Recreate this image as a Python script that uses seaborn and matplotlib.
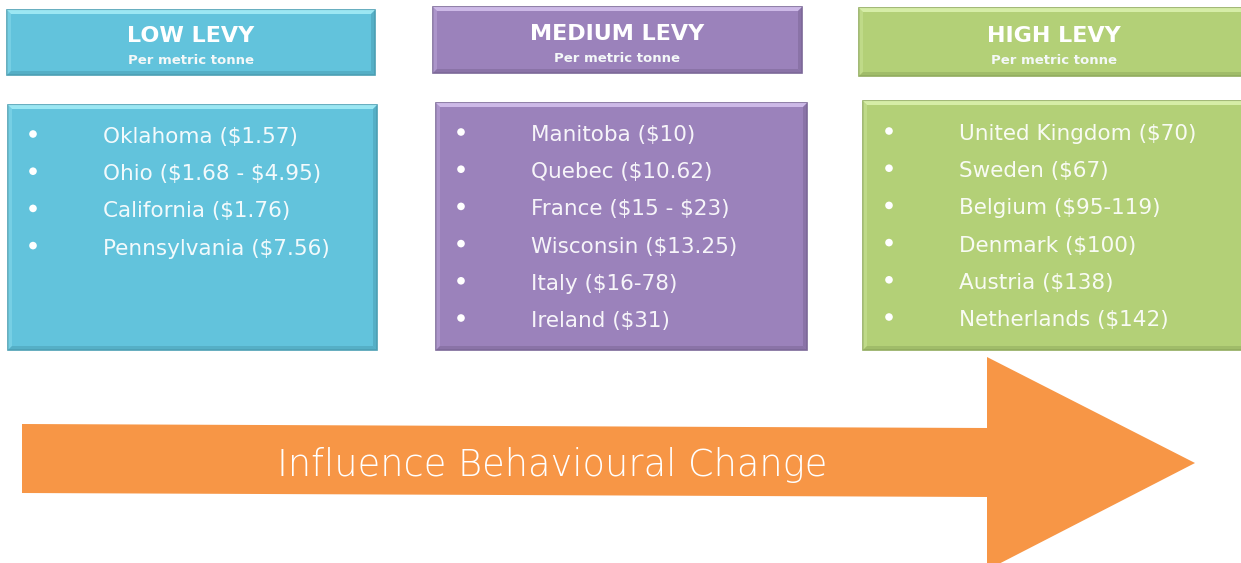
import numpy as np
import pandas as pd
import seaborn as sns
import matplotlib.pyplot as plt
from matplotlib.patches import Polygon

sns.set_theme(style="white")
plt.rcParams['font.family'] = ['DejaVu Sans']

# levy groups
headers = ["LOW LEVY", "MEDIUM LEVY", "HIGH LEVY"]
subtitle = "Per metric tonne"
low_items = ["Oklahoma ($1.57)", "Ohio ($1.68 - $4.95)", "California ($1.76)",
             "Pennsylvania ($7.56)"]
medium_items = ["Manitoba ($10)", "Quebec ($10.62)", "France ($15 - $23)",
                "Wisconsin ($13.25)", "Italy ($16-78)", "Ireland ($31)"]
high_items = ["United Kingdom ($70)", "Sweden ($67)", "Belgium ($95-119)",
              "Denmark ($100)", "Austria ($138)", "Netherlands ($142)"]
arrow_label = "Influence Behavioural Change"

# layout (pixel coords, y down)
header_boxes = [(7, 10, 375, 75), (433, 7, 802, 73), (859, 8, 1245, 76)]
list_boxes = [(8, 105, 377, 350), (436, 103, 807, 350), (863, 101, 1245, 350)]
bullet_x = [33, 461, 889]
text_x = [103, 531, 959]
row_y0 = [137, 135, 134]
row_step = 37.2
faces = ["#62C3DC", "#9B82BB", "#B3D077"]
lights = ["#A6EEF8", "#D6C4F0", "#DDF3B0"]
darks = ["#4C9FB4", "#7C6898", "#91AC5E"]


def bevel_box(ax, box, face, light, dark, bw=4):
    x0, y0, x1, y1 = box
    ax.add_patch(Polygon([(x0, y0), (x1, y0), (x1, y1), (x0, y1)],
                         closed=True, facecolor=face, edgecolor=dark, lw=1.2, zorder=2))
    # top and left lighter, bottom and right darker
    ax.add_patch(Polygon([(x0, y0), (x1, y0), (x1 - bw, y0 + bw), (x0 + bw, y0 + bw)],
                         facecolor=light, edgecolor='none', alpha=0.85, zorder=3))
    ax.add_patch(Polygon([(x0, y0), (x0 + bw, y0 + bw), (x0 + bw, y1 - bw), (x0, y1)],
                         facecolor=light, edgecolor='none', alpha=0.3, zorder=3))
    ax.add_patch(Polygon([(x0, y1), (x0 + bw, y1 - bw), (x1 - bw, y1 - bw), (x1, y1)],
                         facecolor=dark, edgecolor='none', alpha=0.55, zorder=3))
    ax.add_patch(Polygon([(x1, y0), (x1, y1), (x1 - bw, y1 - bw), (x1 - bw, y0 + bw)],
                         facecolor=dark, edgecolor='none', alpha=0.55, zorder=3))


fig = plt.figure(figsize=(12.41, 5.63), dpi=100)
ax = fig.add_axes([0, 0, 1, 1])

groups = [low_items, medium_items, high_items]
for i in range(3):
    bevel_box(ax, header_boxes[i], faces[i], lights[i], darks[i])
    bevel_box(ax, list_boxes[i], faces[i], lights[i], darks[i])
    hx0, hy0, hx1, hy1 = header_boxes[i]
    cx = (hx0 + min(hx1, 1241)) / 2 + (4 if i == 2 else 0)
    ax.text(cx, 36 - (2 if i == 1 else 0), headers[i], ha='center', va='center',
            color='white', fontsize=16, fontweight='bold', zorder=5, parse_math=False)
    ax.text(cx, 61 - (3 if i == 1 else 0), subtitle, ha='center', va='center',
            color='#F4F8F8', fontsize=9.5, fontweight='bold', zorder=5, parse_math=False)
    for j, item in enumerate(groups[i]):
        ax.text(text_x[i], row_y0[i] + j * row_step, item, ha='left', va='center',
                color='white', alpha=0.92, fontsize=15.5, zorder=5, parse_math=False)

# bullets
bullets = pd.DataFrame({
    'x': [bullet_x[i] for i in range(3) for _ in groups[i]],
    'y': [row_y0[i] - 3 + j * row_step for i in range(3) for j in range(len(groups[i]))],
})
sns.scatterplot(data=bullets, x='x', y='y', ax=ax, s=30, color='white',
                edgecolor='none', zorder=6, legend=False)
ax.set_xlim(0, 1241)
ax.set_ylim(563, 0)
ax.axis('off')

# arrow
arrow = Polygon([(22, 424), (987, 428), (987, 357), (1195, 463), (987, 570),
                 (987, 497), (22, 493)], closed=True, facecolor='#F79646',
                edgecolor='none', zorder=2)
ax.add_patch(arrow)
ax.text(552, 465, arrow_label, ha='center', va='center', color='white',
        fontsize=26.5, fontweight='light', zorder=5)

fig.savefig('out.png', dpi=100)
